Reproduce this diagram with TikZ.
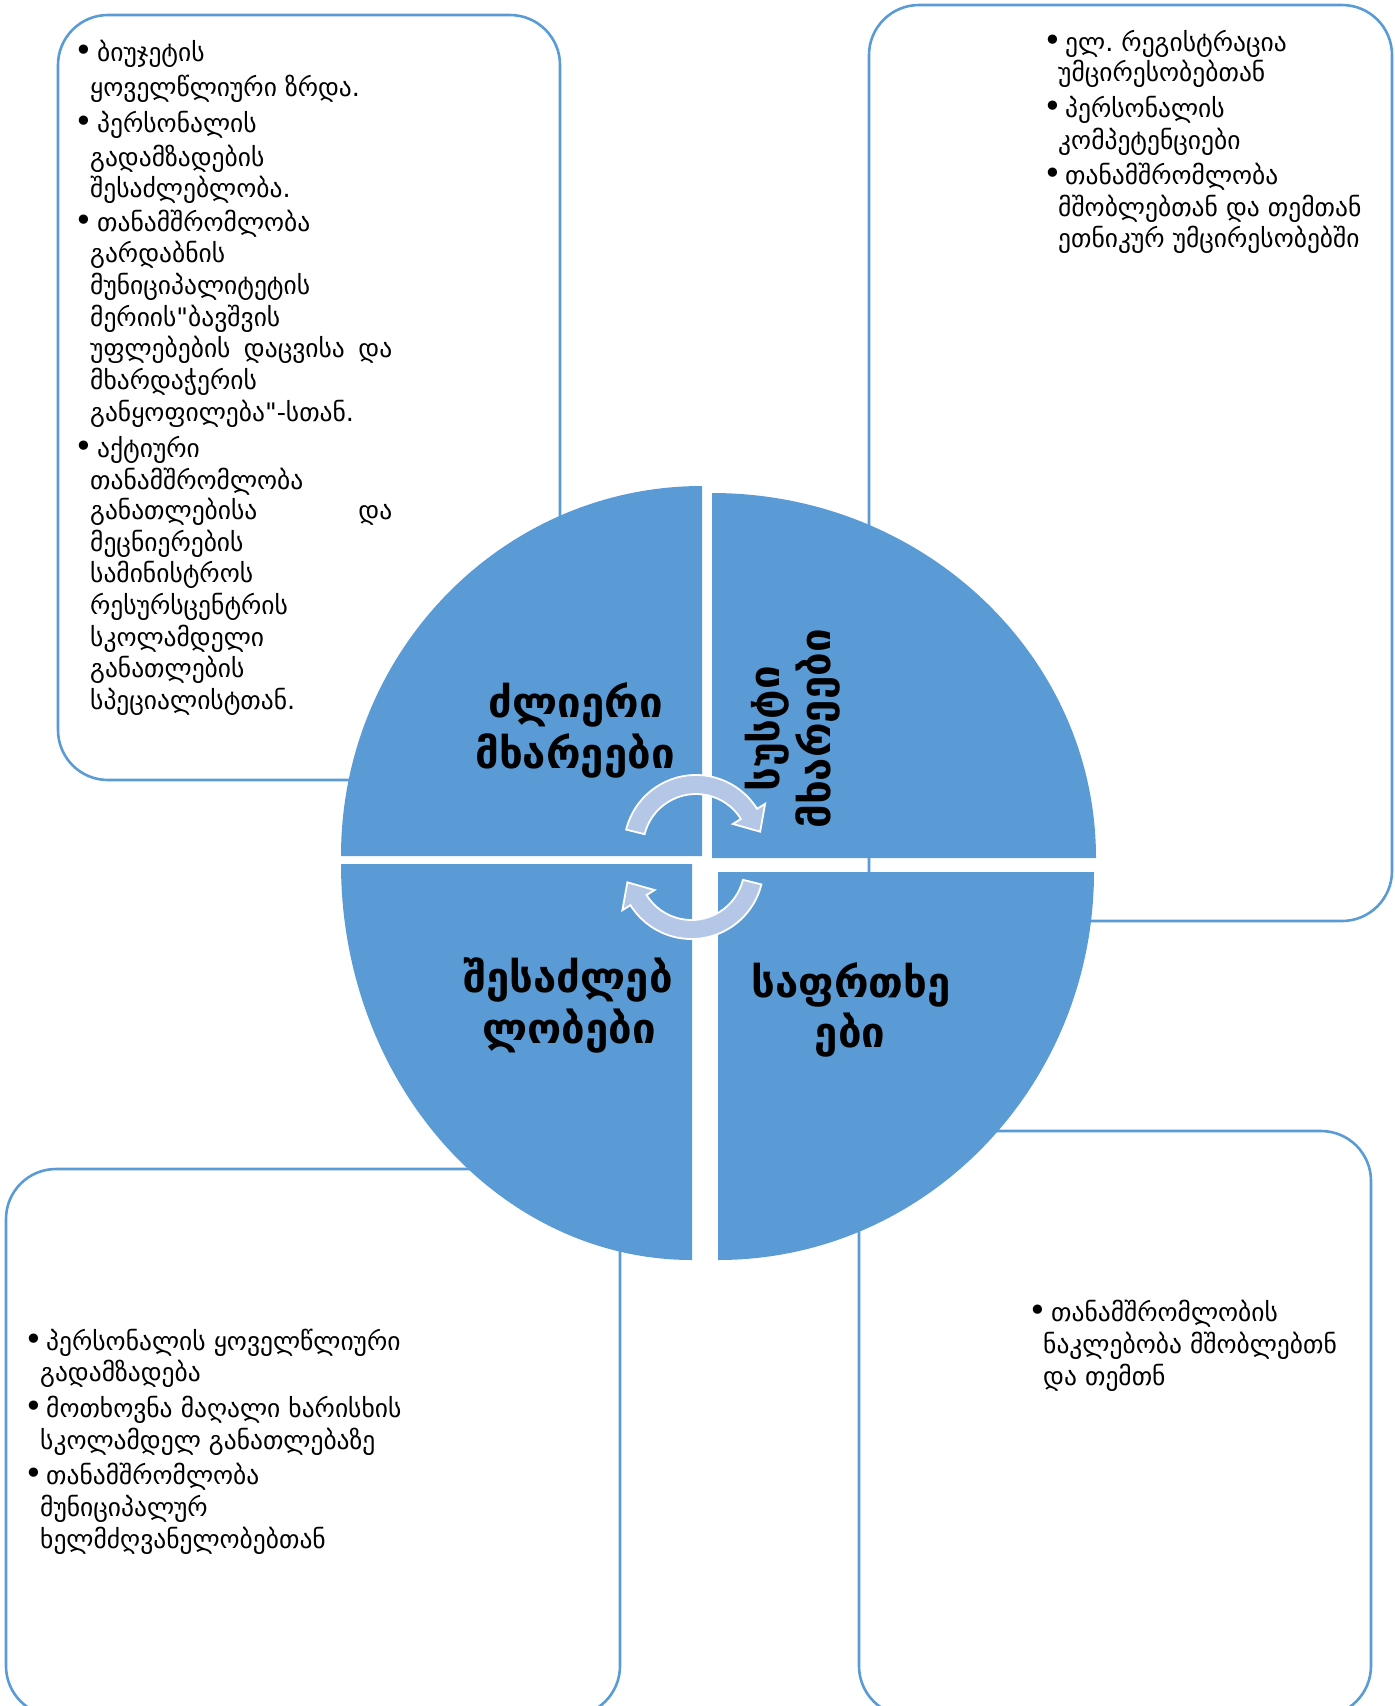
\documentclass[tikz,border=0pt]{standalone}
\usepackage{fontspec}
\setmainfont{DejaVu Sans}[Ligatures=TeXOff]
\usetikzlibrary{calc}
\definecolor{sblue}{HTML}{5B9BD5}
\definecolor{arrowblue}{HTML}{B4C7E7}
\newcommand\mybul[1][22.5pt]{\makebox[#1][l]{\scalebox{1.25}{•}}}
\frenchspacing
\begin{document}
\begin{tikzpicture}[x=1pt,y=-1pt,
  box/.style={draw=sblue, line width=2.6pt, rounded corners=50pt, inner sep=0pt, outer sep=0pt, anchor=north west},
  quad/.style={fill=sblue, draw=none},
  bodytext/.style={anchor=base west, inner sep=0pt, font=\fontsize{25.5}{30}\selectfont},
  title/.style={anchor=base, inner sep=0pt, font=\fontsize{42}{46}\selectfont\bfseries},
  carrow/.style={fill=arrowblue, draw=white, line width=1.8pt, line join=miter}
]
\useasboundingbox (0,0) rectangle (1395,1706);
\clip (0,0) rectangle (1395,1706);

% boxes
\node[box, minimum width=502pt, minimum height=765pt] (tlbox) at (58,15) {};
\node[box, minimum width=523pt, minimum height=916pt] (trbox) at (869,5) {};
\node[box, minimum width=614pt, minimum height=547pt] (blbox) at (6,1169) {};
\node[box, minimum width=512pt, minimum height=585pt] (brbox) at (859,1131) {};

% top-left text
\node[bodytext] (tl1) at (74.5,61) {\mybul ბიუჯეტის};
\node[bodytext] (tl2) at (90,96) {ყოველწლიური ზრდა.};
\node[bodytext] (tl3) at (74.5,132) {\mybul პერსონალის};
\node[bodytext] (tl4) at (90,166) {გადამზადების};
\node[bodytext] (tl5) at (90,197) {შესაძლებლობა.};
\node[bodytext] (tl6) at (74.5,231) {\mybul თანამშრომლობა};
\node[bodytext] (tl7) at (90,262) {გარდაბნის};
\node[bodytext] (tl8) at (90,294) {მუნიციპალიტეტის};
\node[bodytext] (tl9) at (90,326) {მერიის"ბავშვის};
\node[bodytext] (tl10) at (90,357) {\makebox[302pt][s]{უფლებების დაცვისა და}};
\node[bodytext] (tl11) at (90,389) {მხარდაჭერის};
\node[bodytext] (tl12) at (90,421) {განყოფილება"-სთან.};
\node[bodytext] (tl13) at (74.5,457) {\mybul აქტიური};
\node[bodytext] (tl14) at (90,489) {თანამშრომლობა};
\node[bodytext] (tl15) at (90,519) {\makebox[302pt][s]{განათლებისა და}};
\node[bodytext] (tl16) at (90,551) {მეცნიერების};
\node[bodytext] (tl17) at (90,582) {სამინისტროს};
\node[bodytext] (tl18) at (90,614) {რესურსცენტრის};
\node[bodytext] (tl19) at (90,646) {სკოლამდელი};
\node[bodytext] (tl20) at (90,677) {განათლების};
\node[bodytext] (tl21) at (90,709) {სპეციალისტთან.};

% top-right text
\node[bodytext] (tr1) at (1043.5,51) {\mybul[21.5pt]ელ. რეგისტრაცია};
\node[bodytext] (tr2) at (1058,81) {უმცირესობებთან};
\node[bodytext] (tr3) at (1043.5,117) {\mybul[21.5pt]პერსონალის};
\node[bodytext] (tr4) at (1058,149) {კომპეტენციები};
\node[bodytext] (tr5) at (1043.5,184) {\mybul[21.5pt]თანამშრომლობა};
\node[bodytext] (tr6) at (1058,216) {მშობლებთან და თემთან};
\node[bodytext] (tr7) at (1058,247) {ეთნიკურ უმცირესობებში};

% bottom-left text
\node[bodytext] (bl1) at (24,1350) {\mybul[22pt]პერსონალის ყოველწლიური};
\node[bodytext] (bl2) at (40,1381) {გადამზადება};
\node[bodytext] (bl3) at (24,1417) {\mybul[22pt]მოთხოვნა მაღალი ხარისხის};
\node[bodytext] (bl4) at (40,1449) {სკოლამდელ განათლებაზე};
\node[bodytext] (bl5) at (24,1484) {\mybul[22pt]თანამშრომლობა};
\node[bodytext] (bl6) at (40,1516) {მუნიციპალურ};
\node[bodytext] (bl7) at (40,1548) {ხელმძღვანელობებთან};

% bottom-right text
\node[bodytext] (br1) at (1028.5,1321) {\mybul თანამშრომლობის};
\node[bodytext] (br2) at (1043,1353) {ნაკლებობა მშობლებთნ};
\node[bodytext] (br3) at (1043,1385) {და თემთნ};

% pie quadrants
\fill[quad] (702,856) -- (341,856) arc[start angle=180, end angle=90, x radius=361pt, y radius=370pt] -- cycle;
\fill[quad] (712,858) -- (712,493) arc[start angle=90, end angle=0, x radius=384pt, y radius=365pt] -- cycle;
\fill[quad] (692,864) -- (341,864) arc[start angle=180, end angle=270, x radius=351pt, y radius=396pt] -- cycle;
\fill[quad] (718,872) -- (1094,872) arc[start angle=0, end angle=-90, x radius=376pt, y radius=388pt] -- cycle;

% titles
\node[title] (s1) at (576,717) {ძლიერი};
\node[title] (s2) at (575,768) {მხარეები};
\node[title, rotate=90] (w1) at (779,729) {სუსტი};
\node[title, rotate=90] (w2) at (830,729) {მხარეები};
\node[title] (o1) at (568,992) {შესაძლებ};
\node[title] (o2) at (569,1043) {ლობები};
\node[title] (t1) at (851,997) {საფრთხე};
\node[title] (t2) at (850,1047) {ები};

% circular arrows
\coordinate (ta) at (696,847);
\coordinate (ba) at (691.5,867);
\draw[carrow] ($(ta)+(166:72pt)$) arc[start angle=166, end angle=32, radius=72pt]
  -- ($(ta)+(32:81.5pt)$) -- ($(ta)+(32:62.5pt)+(-58:21pt)$) -- ($(ta)+(32:43.5pt)$)
  -- ($(ta)+(32:53pt)$) arc[start angle=32, end angle=166, radius=53pt] -- cycle;
\draw[carrow] ($(ba)+(-14:72pt)$) arc[start angle=-14, end angle=-148, radius=72pt]
  -- ($(ba)+(-148:81.5pt)$) -- ($(ba)+(-148:62.5pt)+(122:21pt)$) -- ($(ba)+(-148:43.5pt)$)
  -- ($(ba)+(-148:53pt)$) arc[start angle=-148, end angle=-14, radius=53pt] -- cycle;
\end{tikzpicture}
\end{document}
